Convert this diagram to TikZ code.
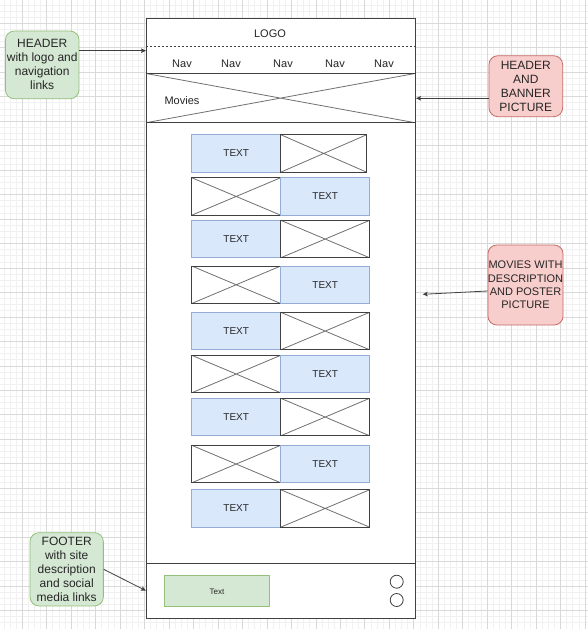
\documentclass[tikz,border=0pt]{standalone}
\usepackage{fontspec}
\setmainfont{Liberation Sans}
\usetikzlibrary{positioning,arrows.meta}
\definecolor{gridminor}{HTML}{F1F1F1}
\definecolor{gridmajor}{HTML}{D9D9D9}
\definecolor{framegray}{HTML}{404040}
\definecolor{crossgray}{HTML}{707070}
\definecolor{bluefill}{HTML}{DAE8FC}
\definecolor{blueline}{HTML}{94ADD6}
\definecolor{greenfill}{HTML}{D5E8D4}
\definecolor{greenline}{HTML}{93C07A}
\definecolor{redfill}{HTML}{F8CECC}
\definecolor{redline}{HTML}{C46A66}

\begin{document}
\begin{tikzpicture}[x=1pt,y=-1pt,
		minorline/.style={draw=gridminor,line width=0.8pt},
		majorline/.style={draw=gridmajor,line width=0.8pt},
		pageframe/.style={draw=framegray,fill=white,line width=1pt,inner sep=0pt,outer sep=0pt,anchor=north west},
		imgbox/.style={draw=framegray,fill=white,line width=1pt,inner sep=0pt,outer sep=0pt,anchor=north west,
			minimum width=89pt,minimum height=37.5pt,
			path picture={\draw[crossgray,line width=0.8pt] (path picture bounding box.north west) -- (path picture bounding box.south east)
				(path picture bounding box.south west) -- (path picture bounding box.north east);}},
		textbox/.style={draw=blueline,fill=bluefill,line width=1pt,inner sep=0pt,outer sep=0pt,anchor=north west,
			minimum width=89pt,minimum height=37.5pt,text=black!85,font=\fontsize{10}{12}\selectfont},
		navtext/.style={inner sep=0pt,text=black!85,font=\fontsize{11}{13}\selectfont},
		note/.style={rounded corners=9pt,line width=0.8pt,inner sep=0pt,align=center,text=black!85,
			font=\fontsize{12}{14}\selectfont},
		greennote/.style={note,fill=greenfill,draw=greenline},
		rednote/.style={note,fill=redfill,draw=redline},
		footbox/.style={draw=greenline,fill=greenfill,line width=1pt,inner sep=0pt,anchor=north west,
			minimum width=104.4pt,minimum height=31pt,text=black!85,font=\fontsize{8}{10}\selectfont},
		icon/.style={circle,draw=framegray,fill=white,line width=0.8pt,inner sep=0pt,minimum size=13pt},
		dotline/.style={draw=framegray,line width=0.8pt,dash pattern=on 2pt off 2pt},
		link/.style={draw=framegray,line width=0.8pt,-{Stealth[length=5pt,width=4.5pt,inset=1pt]}}]
	\useasboundingbox (0,0) rectangle (588,629);

	% background grid
	\foreach \i in {0,...,96} \draw[minorline] ({-2.17+6.1175*\i},0) -- ({-2.17+6.1175*\i},629);
	\foreach \j in {0,...,102} \draw[minorline] (0,{-1.1+6.1175*\j}) -- (588,{-1.1+6.1175*\j});
	\foreach \i in {0,...,24} \draw[majorline] ({-2.17+24.47*\i},0) -- ({-2.17+24.47*\i},629);
	\foreach \j in {0,...,25} \draw[majorline] (0,{-1.1+24.47*\j}) -- (588,{-1.1+24.47*\j});

	% page and header
	\node[pageframe,minimum width=269pt,minimum height=600pt]	(page)		at (146,18.5)	{};
	\node[navtext]										(logo)		at (270,34)		{LOGO};
	\coordinate											(dotleft)	at (146,46.7);
	\coordinate											(dotright)	at (415,46.7);
	\draw[dotline] (dotleft) -- (dotright);
	\node[navtext]										(nav1)		at (182,64)		{Nav};
	\node[navtext]										(nav2)		at (231,64)		{Nav};
	\node[navtext]										(nav3)		at (283,64)		{Nav};
	\node[navtext]										(nav4)		at (335,64)		{Nav};
	\node[navtext]										(nav5)		at (384,64)		{Nav};
	\node[imgbox,minimum width=269pt,minimum height=49.2pt]		(banner)	at (146,73.5)	{};
	\node[navtext]										(movies)	at (182,101)	{Movies};

	% movie rows
	\node[textbox]								(txt1)	at (191.7,134.7)	{TEXT};
	\node[imgbox,minimum width=86pt,right=0pt of txt1]	(img1)	{};
	\node[imgbox]								(img2)	at (191.7,177.7)	{};
	\node[textbox,right=0pt of img2]			(txt2)	{TEXT};
	\node[textbox]								(txt3)	at (191.7,220.3)	{TEXT};
	\node[imgbox,right=0pt of txt3]				(img3)	{};
	\node[imgbox]								(img4)	at (191.7,266)		{};
	\node[textbox,right=0pt of img4]			(txt4)	{TEXT};
	\node[textbox]								(txt5)	at (191.7,312.3)	{TEXT};
	\node[imgbox,right=0pt of txt5]				(img5)	{};
	\node[imgbox]								(img6)	at (191.7,355.3)	{};
	\node[textbox,right=0pt of img6]			(txt6)	{TEXT};
	\node[textbox]								(txt7)	at (191.7,398.3)	{TEXT};
	\node[imgbox,right=0pt of txt7]				(img7)	{};
	\node[imgbox]								(img8)	at (191.7,445.3)	{};
	\node[textbox,right=0pt of img8]			(txt8)	{TEXT};
	\node[textbox]								(txt9)	at (191.7,489.7)	{TEXT};
	\node[imgbox,right=0pt of txt9]				(img9)	{};

	% footer
	\node[pageframe,anchor=south west,minimum width=269pt,minimum height=55pt]	(footer)	at (page.south west)	{};
	\node[footbox]								(ftrtext)	at (164.3,575.3)	{Text};
	\node[icon]									(icon1)		at (396.7,581.7)	{};
	\node[icon]									(icon2)		at (396.7,600)		{};

	% notes
	\node[greennote,minimum width=73.7pt,minimum height=67.7pt]	(hdrnote)	at (42.2,64.9)	{HEADER\\with logo and\\navigation\\links};
	\node[rednote,minimum width=73.7pt,minimum height=61pt]		(bannote)	at (525.8,86.2)	{HEADER\\AND\\BANNER\\PICTURE};
	\node[rednote,minimum width=74.4pt,minimum height=80pt,font=\fontsize{11}{13.2}\selectfont]	(movnote)	at (525.5,285)	{MOVIES WITH\\DESCRIPTION\\AND POSTER\\PICTURE};
	\node[greennote,minimum width=73.3pt,minimum height=73.3pt]	(ftrnote)	at (66.7,569.3)	{FOOTER\\with site\\description\\and social\\media links};

	\coordinate	(hdrtip)	at (146,50.7);
	\coordinate	(bantip)	at (416,98.3);
	\coordinate	(movtip)	at (422.7,294.3);
	\coordinate	(ftrtip)	at (146,590.7);
	\draw[link] (hdrnote.east |- hdrtip) -- (hdrtip);
	\draw[link] (bannote.west |- bantip) -- (bantip);
	\draw[link] ([yshift=-6pt]movnote.west) -- (movtip);
	\draw[link] (ftrnote.east) -- (ftrtip);
\end{tikzpicture}
\end{document}
